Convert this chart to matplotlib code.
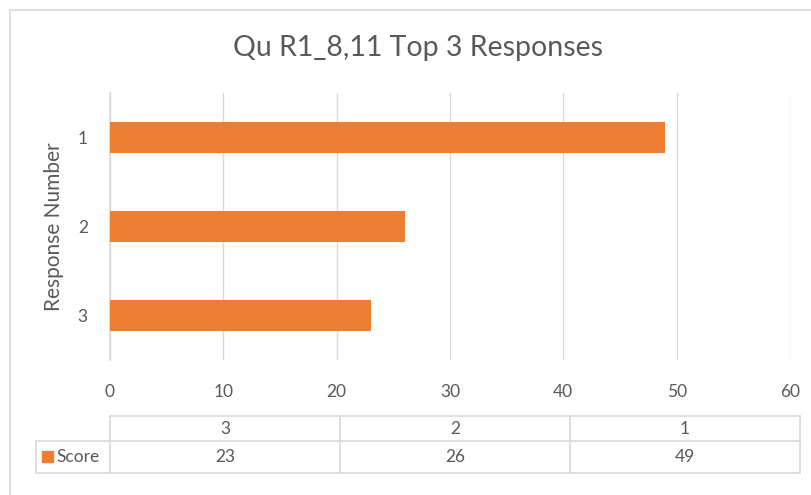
import matplotlib.pyplot as plt
from matplotlib.patches import Rectangle
from matplotlib.lines import Line2D

plt.rcParams['font.family'] = ['Lato', 'DejaVu Sans']

# Data
categories = ['1', '2', '3']
scores = [49, 26, 23]
series_name = 'Score'
title = 'Qu R1_8,11 Top 3 Responses'
y_label = 'Response Number'
x_ticks = [0, 10, 20, 30, 40, 50, 60]

W, H = 812, 495
BAR = '#ED7D31'
GRID = '#D9D9D9'
TEXT = '#595959'

fig = plt.figure(figsize=(W / 100, H / 100), dpi=100)


def fx(px):
    return px / W


def fy(py):
    return 1 - py / H


# Chart frame
fig.add_artist(Line2D([fx(10), fx(812)], [fy(9.5), fy(9.5)], color=GRID, lw=1.2))
fig.add_artist(Line2D([fx(10), fx(10)], [fy(9.5), fy(495)], color=GRID, lw=1.2))

# Plot area
ax = fig.add_axes([fx(110), fy(360), fx(790) - fx(110), fy(93) - fy(360)])
pos = list(range(len(categories)))
ax.barh(pos, scores, height=0.35, color=BAR, zorder=3)
ax.set_ylim(len(categories) - 0.5, -0.5)
ax.set_yticks(pos)
ax.set_yticklabels(categories)
ax.set_xlim(x_ticks[0], x_ticks[-1])
ax.set_xticks(x_ticks)
ax.set_xticklabels([str(t) for t in x_ticks])
ax.grid(axis='x', color=GRID, lw=1, zorder=0)
for s in ['top', 'right', 'bottom']:
    ax.spines[s].set_visible(False)
ax.spines['left'].set_color(GRID)
ax.spines['left'].set_linewidth(1.2)
ax.tick_params(axis='both', length=0, colors=TEXT, labelsize=12.5)
ax.tick_params(axis='x', pad=17)
ax.tick_params(axis='y', pad=16)
ax.set_ylabel(y_label, color=TEXT, fontsize=15, labelpad=10)

fig.text(fx(418), fy(48), title, ha='center', va='center', color=TEXT, fontsize=20.5)

# Data table below the axis
col_edges = [110, 340, 570, 800]
row_top, row_mid, row_bot = 416, 441, 473
leg_left = 36
tbl_kw = dict(color=GRID, lw=1.2)
fig.add_artist(Line2D([fx(110), fx(800)], [fy(row_top), fy(row_top)], **tbl_kw))
fig.add_artist(Line2D([fx(leg_left), fx(800)], [fy(row_mid), fy(row_mid)], **tbl_kw))
fig.add_artist(Line2D([fx(leg_left), fx(800)], [fy(row_bot), fy(row_bot)], **tbl_kw))
fig.add_artist(Line2D([fx(leg_left), fx(leg_left)], [fy(row_mid), fy(row_bot)], **tbl_kw))
for x in col_edges:
    fig.add_artist(Line2D([fx(x), fx(x)], [fy(row_top), fy(row_bot)], **tbl_kw))

table_cats = categories[::-1]
table_vals = scores[::-1]
for i, (c, v) in enumerate(zip(table_cats, table_vals)):
    cx = (col_edges[i] + col_edges[i + 1]) / 2
    fig.text(fx(cx), fy((row_top + row_mid) / 2), c, ha='center', va='center',
             color=TEXT, fontsize=12.5)
    fig.text(fx(cx), fy((row_mid + row_bot) / 2), str(v), ha='center', va='center',
             color=TEXT, fontsize=12.5)

# Legend key in the table
fig.add_artist(Rectangle((fx(42), fy(462)), fx(11), fy(451) - fy(462), color=BAR))
fig.text(fx(56), fy((row_mid + row_bot) / 2), series_name, ha='left', va='center',
         color=TEXT, fontsize=12.5)

fig.savefig('out.png', dpi=100)
